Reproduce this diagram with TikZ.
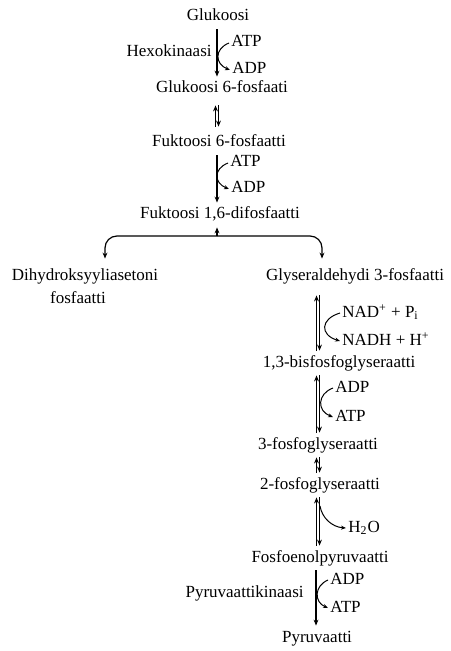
\documentclass[tikz,border=0pt]{standalone}
\usepackage{fontspec}
\setmainfont{Liberation Serif}
\usetikzlibrary{arrows.meta,calc}

\tikzset{
  compound/.style={inner sep=1pt, text height=6pt, text depth=2pt},
  cofactor/.style={compound, anchor=west},
  fwd/.style={-{Stealth[length=3pt,width=2.4pt]}, line width=0.6pt, shorten <=1pt, shorten >=1pt},
  side/.style={-{Stealth[length=2.5pt,width=2pt]}, line width=0.5pt}
}

\begin{document}
\begin{tikzpicture}[x=0.5pt, y=-0.5pt, font=\fontsize{8.5pt}{10pt}\selectfont]
      \useasboundingbox (0,0) rectangle (450,651);

      % Axes of the pathway
      \coordinate (axA) at (217,0);
      \coordinate (axB) at (318,0);
      \coordinate (axC) at (316,0);

      % Compounds
      \node[compound] (glc) at (218,17) {Glukoosi};
      \node[compound] (g6p) at (222,89) {Glukoosi 6-fosfaati};
      \node[compound] (f6p) at (219,143) {Fuktoosi 6-fosfaatti};
      \node[compound] (f16) at (220,215) {Fuktoosi 1,6-difosfaatti};
      \node[compound] (dhap) at (85,277) {Dihydroksyyliasetoni};
      \node[compound] (dhapb) at (78,300) {fosfaatti};
      \node[compound] (gap) at (355,277) {Glyseraldehydi 3-fosfaatti};
      \node[compound] (bpg) at (339,363) {1,3-bisfosfoglyseraatti};
      \node[compound] (pga3) at (318,445) {3-fosfoglyseraatti};
      \node[compound] (pga2) at (320,485) {2-fosfoglyseraatti};
      \node[compound] (pep) at (320,558) {Fosfoenolpyruvaatti};
      \node[compound] (pyr) at (317,638) {Pyruvaatti};

      % Enzymes
      \node[compound, anchor=east] (hk) at (214,53) {Hexokinaasi};
      \node[compound, anchor=east] (pk) at (306,593) {Pyruvaattikinaasi};

      % Cofactors
      \node[cofactor] (atpA) at (229,43) {ATP};
      \node[cofactor] (adpA) at (230,70) {ADP};
      \node[cofactor] (atpB) at (228,163) {ATP};
      \node[cofactor] (adpB) at (229,189) {ADP};
      \node[cofactor] (nad) at (340,313) {NAD\textsuperscript{+} + P\textsubscript{i}};
      \node[cofactor] (nadh) at (340,341) {NADH + H\textsuperscript{+}};
      \node[cofactor] (adpC) at (333,388) {ADP};
      \node[cofactor] (atpC) at (333,417) {ATP};
      \node[cofactor] (h2o) at (346,528) {H\textsubscript{2}O};
      \node[cofactor] (adpD) at (328,580) {ADP};
      \node[cofactor] (atpD) at (328,608) {ATP};

      % Glukoosi -> Glukoosi 6-fosfaati
      \draw[fwd] (glc.south -| axA) -- (g6p.north -| axA);
      \draw[side] (atpA.west) .. controls +(-15,6) and +(-15,-6) .. (adpA.west);

      % Glukoosi 6-fosfaati <-> Fuktoosi 6-fosfaatti
      \draw[fwd, shorten <=3pt, shorten >=3pt] ($(g6p.south -| axA)+(1.5,0)$) -- ($(f6p.north -| axA)+(1.5,0)$);
      \draw[fwd, shorten <=3pt, shorten >=3pt] ($(f6p.north -| axA)+(-1.5,0)$) -- ($(g6p.south -| axA)+(-1.5,0)$);

      % Fuktoosi 6-fosfaatti -> Fuktoosi 1,6-difosfaatti
      \draw[fwd] (f6p.south -| axA) -- (f16.north -| axA);
      \draw[side] (atpB.west) .. controls +(-15,6) and +(-15,-6) .. (adpB.west);

      % Split into the two trioses
      \coordinate (split) at (217,236);
      \draw[fwd, shorten <=0pt] (split) -- (f16.south -| axA);
      \draw[fwd, rounded corners=6pt, shorten <=0pt, shorten >=4pt] (split) -| ($(dhap.north)+(20,0)$);
      \draw[fwd, rounded corners=6pt, shorten <=0pt, shorten >=4pt] (split) -| ($(gap.north)+(-33,0)$);

      % Glyseraldehydi 3-fosfaatti <-> 1,3-bisfosfoglyseraatti
      \draw[fwd, shorten <=4pt] ($(gap.south -| axB)+(1.5,0)$) -- ($(bpg.north -| axB)+(1.5,0)$);
      \draw[fwd, shorten >=4pt] ($(bpg.north -| axB)+(-1.5,0)$) -- ($(gap.south -| axB)+(-1.5,0)$);
      \draw[side] (nad.west) .. controls +(-20,6) and +(-20,-6) .. (nadh.west);

      % 1,3-bisfosfoglyseraatti <-> 3-fosfoglyseraatti
      \draw[fwd] ($(bpg.south -| axB)+(1.5,0)$) -- ($(pga3.north -| axB)+(1.5,0)$);
      \draw[fwd] ($(pga3.north -| axB)+(-1.5,0)$) -- ($(bpg.south -| axB)+(-1.5,0)$);
      \draw[side] (adpC.west) .. controls +(-16,6) and +(-16,-6) .. (atpC.west);

      % 3-fosfoglyseraatti <-> 2-fosfoglyseraatti
      \draw[fwd] ($(pga3.south -| axB)+(1.5,0)$) -- ($(pga2.north -| axB)+(1.5,0)$);
      \draw[fwd] ($(pga2.north -| axB)+(-1.5,0)$) -- ($(pga3.south -| axB)+(-1.5,0)$);

      % 2-fosfoglyseraatti <-> Fosfoenolpyruvaatti
      \draw[fwd] ($(pga2.south -| axB)+(1.5,0)$) -- ($(pep.north -| axB)+(1.5,0)$);
      \draw[fwd] ($(pep.north -| axB)+(-1.5,0)$) -- ($(pga2.south -| axB)+(-1.5,0)$);
      \coordinate (h2oFrom) at (320,506);
      \draw[side] (h2oFrom) .. controls (322,518) and (332,527) .. (h2o.west);

      % Fosfoenolpyruvaatti -> Pyruvaatti
      \draw[fwd] (pep.south -| axC) -- (pyr.north -| axC);
      \draw[side] (adpD.west) .. controls +(-14,6) and +(-14,-6) .. (atpD.west);

  \end{tikzpicture}
\end{document}
